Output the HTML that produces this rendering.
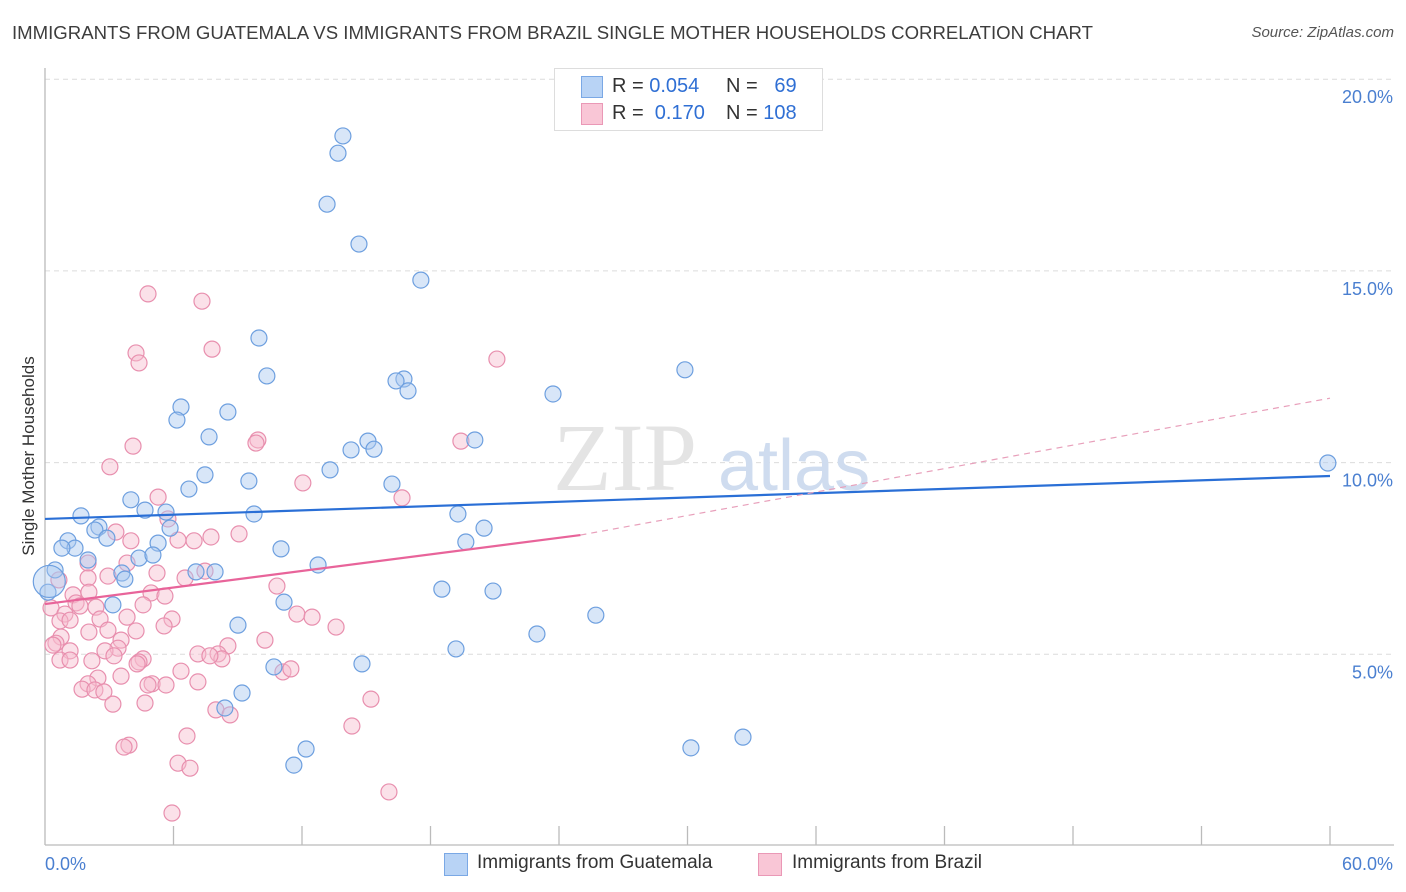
<!DOCTYPE html>
<html><head><meta charset="utf-8"><style>
body{margin:0;background:#fff;font-family:"Liberation Sans",sans-serif;}
#wrap{position:relative;width:1406px;height:892px;overflow:hidden;}
.t{position:absolute;white-space:nowrap;}
</style></head><body>
<div id="wrap">
<div class="t" style="left:12px;top:22px;font-size:18.6px;color:#3d3d3d;">IMMIGRANTS FROM GUATEMALA VS IMMIGRANTS FROM BRAZIL SINGLE MOTHER HOUSEHOLDS CORRELATION CHART</div>
<div class="t" style="right:12px;top:24px;font-size:15px;color:#555;font-style:italic;">Source: ZipAtlas.com</div>
<svg id="svg" width="1406" height="892" style="position:absolute;left:0;top:0"></svg>
</div>
<script>
const yTicks=[5,10,15,20];
const yTickLabels=["5.0%","10.0%","15.0%","20.0%"];
const xTicksCount=[0,6,12,18,24,30,36,42,48,54,60];
const xEndLabels=["0.0%","60.0%"];
const guatX=[13.91,13.68,13.17,14.66,17.55,9.99,10.36,16.76,16.39,16.95,29.88,23.72,6.35,6.16,8.54,7.66,15.08,15.36,20.07,14.29,13.31,59.90,7.47,9.52,6.72,16.20,4.01,4.67,5.65,9.76,19.28,20.50,1.68,2.52,2.33,2.89,5.84,5.28,19.65,1.07,1.40,0.79,2.01,4.39,5.04,11.02,12.75,0.47,3.59,3.73,7.05,7.94,18.53,20.92,3.17,11.16,25.72,22.97,9.01,19.19,14.80,10.69,9.20,8.40,12.19,11.62,30.16,32.59,0.14];
const guatY=[18.52,18.07,16.74,15.70,14.76,13.25,12.26,12.18,12.13,11.87,12.42,11.79,11.45,11.11,11.32,10.67,10.56,10.35,10.59,10.33,9.81,9.99,9.68,9.52,9.31,9.44,9.03,8.76,8.71,8.66,8.66,8.29,8.61,8.32,8.24,8.03,8.29,7.90,7.93,7.96,7.77,7.77,7.46,7.51,7.59,7.75,7.33,7.20,7.12,6.96,7.15,7.15,6.70,6.65,6.29,6.36,6.02,5.53,5.76,5.14,4.75,4.67,3.99,3.60,2.53,2.11,2.56,2.84,6.62];
const brazX=[4.81,7.33,4.25,4.39,7.80,21.10,9.94,9.85,19.42,4.11,3.03,12.04,16.67,5.28,5.74,3.31,6.21,6.96,7.75,9.06,4.01,2.01,3.83,5.23,2.94,6.54,7.47,10.83,0.65,2.01,1.31,2.05,4.95,5.60,2.38,0.28,1.45,1.63,4.58,11.76,12.47,0.93,2.57,5.93,3.83,5.56,2.94,4.25,2.05,13.59,0.70,1.17,0.75,3.55,10.27,0.51,0.37,8.54,3.41,2.80,1.17,8.08,7.14,3.22,4.58,8.26,7.70,2.19,4.39,0.70,1.17,4.30,11.11,11.48,6.35,3.55,2.47,5.00,4.81,5.65,7.14,2.01,1.73,2.33,2.75,4.67,3.17,15.22,7.98,8.64,6.63,14.33,3.92,3.69,6.21,6.77,16.06,5.93];
const brazY=[14.40,14.21,12.86,12.60,12.96,12.70,10.59,10.51,10.56,10.43,9.89,9.47,9.08,9.10,8.53,8.19,7.98,7.96,8.06,8.14,7.96,7.38,7.38,7.12,7.04,6.99,7.17,6.78,6.94,6.99,6.55,6.62,6.60,6.52,6.23,6.21,6.34,6.26,6.29,6.05,5.97,6.05,5.92,5.92,5.97,5.74,5.63,5.61,5.58,5.71,5.87,5.89,5.45,5.37,5.37,5.29,5.24,5.22,5.16,5.09,5.09,5.01,5.01,4.96,4.88,4.88,4.96,4.83,4.80,4.85,4.85,4.75,4.54,4.62,4.56,4.43,4.38,4.23,4.20,4.20,4.28,4.23,4.09,4.07,4.02,3.73,3.70,3.83,3.55,3.42,2.87,3.13,2.63,2.58,2.16,2.03,1.41,0.86];
const guatTrend=[8.53,9.65];
const brazTrend=[6.31,8.11,11.68];
const brazTrendX=[0,25,60];

const X0=45,X1=1330,Y0=846,PY=38.34;
const sx=v=>X0+(X1-X0)*v/60;
const sy=v=>Y0-v*PY;
const NS="http://www.w3.org/2000/svg";
const svg=document.getElementById('svg');
function mk(tag,attrs){const e=document.createElementNS(NS,tag);for(const k in attrs)e.setAttribute(k,attrs[k]);svg.appendChild(e);return e;}

yTicks.forEach((v,i)=>{
 const g=mk('line',{x1:45,x2:1394,y1:sy(v),y2:sy(v),stroke:'#dcdcdc','stroke-dasharray':'5,4','stroke-width':1});
 
 
 const t=mk('text',{x:1393,y:sy(v)+24,'text-anchor':'end','font-size':18,fill:'#4a7fd0','font-family':'Liberation Sans'});
 t.textContent=yTickLabels[i];
 
 
});
mk('line',{x1:X0,x2:1394,y1:Y0-1,y2:Y0-1,stroke:'#bbb','stroke-width':1.3});
mk('line',{x1:X0,x2:X0,y1:68,y2:Y0-1,stroke:'#bbb','stroke-width':1.3});
xTicksCount.forEach((v,i)=>{if(i===0)return;
 const l=mk('line',{x1:sx(v),x2:sx(v),y1:826,y2:845,stroke:'#bbb','stroke-width':1.3});
 
 
});
const wm=mk('text',{x:553,y:490,'font-size':96,fill:'#e4e4e4','font-family':'Liberation Serif'});
wm.textContent='ZIP';

const wm2=mk('text',{x:718,y:490,'font-size':72,fill:'#cfdcef','font-family':'Liberation Sans'});
wm2.textContent='atlas';


function pts(xs,ys,fill,stroke,name){
 xs.forEach((x,i)=>{
  const c=mk('circle',{cx:sx(x),cy:sy(ys[i]),r:8,fill:fill,'fill-opacity':0.45,stroke:stroke,'stroke-width':1.2});
  
  
 });
}
pts(brazX,brazY,'#f7bccf','#e88fae','brazil-point');
pts(guatX,guatY,'#a8c8f0','#6d9fdf','guatemala-point');
const big=mk('circle',{cx:sx(0.2),cy:sy(6.9),r:16,fill:'#a8c8f0','fill-opacity':0.4,stroke:'#6d9fdf','stroke-width':1.2});


const gl=mk('line',{x1:sx(0),y1:sy(guatTrend[0]),x2:sx(60),y2:sy(guatTrend[1]),stroke:'#2a6fd6','stroke-width':2.2});

const bl=mk('line',{x1:sx(brazTrendX[0]),y1:sy(brazTrend[0]),x2:sx(brazTrendX[1]),y2:sy(brazTrend[1]),stroke:'#e8649a','stroke-width':2.2});

const bd=mk('line',{x1:sx(brazTrendX[1]),y1:sy(brazTrend[1]),x2:sx(brazTrendX[2]),y2:sy(brazTrend[2]),stroke:'#e8a0bb','stroke-width':1.2,'stroke-dasharray':'6,5'});


const xl0=mk('text',{x:45,y:870,'font-size':18,fill:'#4a7fd0','font-family':'Liberation Sans'});xl0.textContent=xEndLabels[0];

const xl1=mk('text',{x:1393,y:870,'text-anchor':'end','font-size':18,fill:'#4a7fd0','font-family':'Liberation Sans'});xl1.textContent=xEndLabels[1];

const yt=mk('text',{x:0,y:0,'font-size':17,fill:'#333','font-family':'Liberation Sans','text-anchor':'middle',transform:'translate(34,456) rotate(-90)'});
yt.textContent='Single Mother Households';

</script>
<div style="position:absolute;left:554px;top:68px;width:267px;height:61px;border:1px solid #ddd;background:#fff;font-size:20px;">
 <div style="position:absolute;left:26px;top:7px;width:20px;height:20px;background:#b8d3f5;border:1px solid #7aa8e5;"></div>
 <div class="t" style="left:57px;top:6px;color:#333;">R = <span style="color:#2f6fd4">0.054</span></div>
 <div class="t" style="left:171px;top:6px;color:#333;">N = <span style="color:#2f6fd4">&nbsp;&nbsp;69</span></div>
 <div style="position:absolute;left:26px;top:34px;width:20px;height:20px;background:#f9c6d6;border:1px solid #ea98b6;"></div>
 <div class="t" style="left:57px;top:33px;color:#333;">R = <span style="color:#2f6fd4">&nbsp;0.170</span></div>
 <div class="t" style="left:171px;top:33px;color:#333;">N = <span style="color:#2f6fd4">108</span></div>
</div>
<div style="position:absolute;left:444px;top:852px;font-size:19px;color:#333;">
 <div style="position:absolute;left:0;top:1px;width:22px;height:21px;background:#b8d3f5;border:1px solid #7aa8e5;"></div>
 <div class="t" style="left:33px;top:0;">Immigrants from Guatemala</div>
 <div style="position:absolute;left:314px;top:1px;width:22px;height:21px;background:#f9c6d6;border:1px solid #ea98b6;"></div>
 <div class="t" style="left:348px;top:0;">Immigrants from Brazil</div>
</div>
</body></html>
